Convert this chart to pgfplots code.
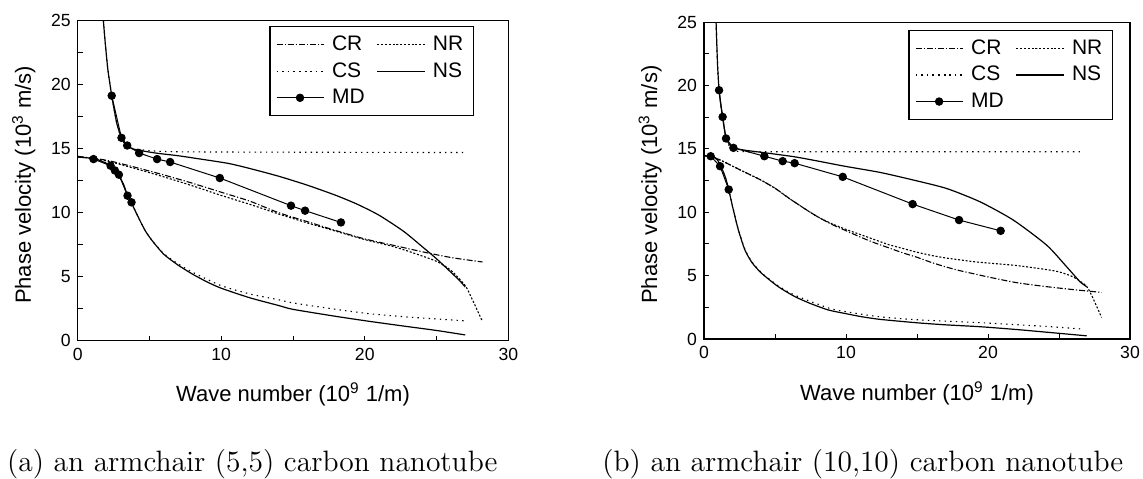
\documentclass[border=0pt]{standalone}
\usepackage{fontspec}
\setsansfont{Liberation Sans}
\usepackage{pgfplots}
\pgfplotsset{compat=1.18}

\pgfplotsset{
  panel/.style={
    scale only axis,
    xmin=0, xmax=30, ymin=0, ymax=25,
    xtick={0,10,20,30}, ytick={0,5,...,25},
    minor x tick num=1, minor y tick num=1,
    tick align=inside, xtick pos=bottom, ytick pos=left,
    major tick length=2.6pt, minor tick length=2.6pt,
    every tick/.style={black, line width=0.5pt},
    axis line style={line width=0.6pt},
    tick label style={font=\sffamily\fontsize{8.8}{10}\selectfont},
    /pgf/number format/assume math mode=true,
    xlabel={Wave number (10\textsuperscript{9} 1/m)},
    ylabel={Phase velocity (10\textsuperscript{3} m/s)},
    every axis x label/.style={at={([yshift=-30.5pt]axis description cs:0.5,0)}, anchor=base,
      font=\sffamily\fontsize{11}{12}\selectfont},
    every axis y label/.style={at={([xshift=-23.4pt]axis description cs:0,0.487)}, rotate=90,
      anchor=base, font=\sffamily\fontsize{11}{12}\selectfont},
    legend columns=2,
    legend cell align=left,
    legend image code/.code={\draw[mark repeat=2,mark phase=2,##1] plot coordinates {(0pt,0pt) (11.75pt,0pt) (23.5pt,0pt)};},
    legend style={font=\sffamily\fontsize{10.5}{12}\selectfont, draw=black, line width=0.6pt,
      inner xsep=3pt, inner ysep=2.5pt, row sep=0.5pt, anchor=north east,
      /tikz/every odd column/.append style={column sep=2pt},
      /tikz/every even column/.append style={column sep=4pt}},
  },
  cr/.style={black, line width=0.55pt, smooth, tension=0.4, dash pattern=on 3pt off 1pt on 0.6pt off 1pt},
  nr/.style={black, line width=0.55pt, smooth, tension=0.4, dash pattern=on 1pt off 0.9pt},
  cs/.style={black, line width=0.55pt, smooth, tension=0.4, dash pattern=on 0.7pt off 2.1pt},
  ns/.style={black, line width=0.6pt, smooth, tension=0.4},
  md/.style={black, line width=0.5pt, mark=*, mark size=1.85pt, mark options={solid, fill=black}},
}

\begin{document}
\begin{tikzpicture}
\path[use as bounding box] (0,0) rectangle (571.5pt,239pt);

% (a) armchair (5,5)
\begin{axis}[panel, at={(38.85pt,68.65pt)}, anchor=south west,
  width=215.3pt, height=160pt, legend style={at={(0.92,0.983)}}]
\addplot[cr] coordinates {(0,14.4) (2,14.1) (4,13.55) (6,12.95) (8,12.3) (10,11.6) (12,10.9)
  (14,10.0) (16,9.3) (18,8.6) (20,7.95) (22,7.45) (24,6.95) (26,6.5) (28.2,6.15)};
\addplot[nr] coordinates {(0,14.4) (2,14.05) (4,13.45) (6,12.8) (8,12.1) (10,11.35) (12,10.65)
  (14,9.9) (16,9.2) (18,8.55) (20,7.9) (22,7.35) (23.4,6.85) (25,6.2) (26,5.5) (27,4.3)
  (27.5,3.2) (28.2,1.5)};
\addplot[cs] coordinates {(1.79,25) (1.9,23.5) (2.1,21.2) (2.37,19.14) (2.55,18.0) (2.72,17.0)
  (2.9,16.3) (3.06,15.8) (3.25,15.45) (3.5,15.1) (5,14.85) (8,14.75) (27,14.7)};
\addplot[ns] coordinates {(1.79,25) (1.9,23.5) (2.1,21.2) (2.37,19.14) (2.55,18.0) (2.72,17.0)
  (2.9,16.3) (3.06,15.8) (3.25,15.45) (3.44,15.2) (3.8,15.0) (4.3,14.87) (5.5,14.65) (7,14.45)
  (8.5,14.2) (10.5,13.85) (12,13.45) (14,12.85) (16,12.15) (18,11.35) (19.5,10.65) (21,9.8)
  (22.7,8.55) (24,7.35) (25,6.4) (26,5.35) (26.6,4.7) (27.0,4.2)};
\addplot[md] coordinates {(2.37,19.14) (3.05,15.85) (3.45,15.25) (4.28,14.66) (5.53,14.19)
  (6.44,13.96) (9.9,12.71) (14.86,10.55) (15.84,10.16) (18.34,9.24)};
\addplot[cs, forget plot] coordinates {(0,14.35) (1,14.25) (1.5,14.1) (2,13.85) (2.3,13.6)
  (2.6,13.25) (2.9,12.85) (3.2,12.2) (3.47,11.35) (3.75,10.75) (4.2,9.7) (4.7,8.6) (5.2,7.8)
  (6,6.8) (7,6.0) (8,5.35) (10,4.3) (12,3.65) (14,3.2) (15,2.95) (18,2.45) (20.4,2.1)
  (23,1.85) (25,1.7) (27,1.55)};
\addplot[ns, forget plot] coordinates {(0,14.35) (1,14.25) (1.5,14.1) (2,13.85) (2.3,13.6)
  (2.6,13.25) (2.9,12.85) (3.2,12.2) (3.47,11.35) (3.75,10.75) (4.2,9.7) (4.7,8.6) (5.2,7.8)
  (6,6.75) (7,5.9) (8,5.2) (9,4.6) (10,4.1) (12,3.35) (14,2.75) (15,2.45) (18,1.9) (20.4,1.5)
  (23,1.1) (25,0.8) (27,0.45)};
\addplot[md, forget plot] coordinates {(1.10,14.19) (2.29,13.67) (2.59,13.3) (2.87,12.97)
  (3.47,11.33) (3.75,10.81)};
\legend{CR,NR,CS,NS,MD}
\end{axis}

% (b) armchair (10,10)
\begin{axis}[panel, at={(352pt,69.5pt)}, anchor=south west,
  width=213pt, height=158.35pt, legend style={at={(0.96,0.976)}}]
\addplot[cr] coordinates {(0,14.5) (1,14.2) (2,13.65) (3,13.1) (4,12.55) (5,11.9) (6,11.1)
  (7,10.35) (8,9.65) (9,9.05) (10,8.55) (11,8.05) (12,7.6) (13,7.2) (14,6.8) (15,6.45)
  (16,6.05) (17,5.7) (18,5.4) (19,5.15) (20,4.9) (22,4.45) (24,4.15) (26,3.9) (28,3.68)};
\addplot[nr] coordinates {(0,14.5) (1,14.2) (2,13.65) (3,13.1) (4,12.55) (5,11.9) (6,11.1)
  (7,10.35) (8,9.65) (9,9.1) (10,8.65) (11,8.25) (12,7.85) (13,7.45) (14,7.15) (15,6.85)
  (16,6.6) (17,6.4) (18,6.25) (19,6.1) (20,6.0) (22,5.8) (24,5.5) (25,5.3) (26,4.9)
  (26.95,4.15) (27.5,2.95) (28,1.7)};
\addplot[cs] coordinates {(0.85,25) (0.9,23.3) (0.96,21.5) (1.06,19.64) (1.18,18.5)
  (1.31,17.53) (1.43,16.6) (1.55,15.83) (1.8,15.2) (2.07,14.95) (2.5,14.8) (5,14.78) (26.6,14.78)};
\addplot[ns] coordinates {(0.85,25) (0.9,23.3) (0.96,21.5) (1.06,19.64) (1.18,18.5)
  (1.31,17.53) (1.43,16.6) (1.55,15.83) (1.8,15.35) (2.07,15.09) (2.9,14.9) (4.3,14.7)
  (6.4,14.38) (8,14.05) (9.9,13.64) (12.4,13.15) (14.74,12.55) (17.09,11.88) (19.44,10.83)
  (21.78,9.39) (24.13,7.41) (25.54,5.70) (26.48,4.52) (26.95,4.13)};
\addplot[md] coordinates {(1.06,19.64) (1.31,17.53) (1.55,15.83) (2.07,15.09) (4.25,14.43)
  (5.54,14.04) (6.38,13.88) (9.77,12.80) (14.69,10.65) (17.96,9.39) (20.89,8.54)};
\addplot[cs, forget plot] coordinates {(0,14.45) (0.47,14.43) (0.8,14.25) (1.0,14.0)
  (1.13,13.6) (1.36,13.15) (1.55,12.55) (1.74,11.8) (1.9,11.0) (2.07,10.2) (2.42,8.65)
  (2.89,7.05) (3.4,6.05) (4.06,5.22) (5.23,4.2) (6.41,3.45) (8.76,2.45) (10,2.15) (12.4,1.75)
  (15,1.52) (19.44,1.29) (24,1.0) (26.5,0.8)};
\addplot[ns, forget plot] coordinates {(0,14.45) (0.47,14.43) (0.8,14.3) (1.0,14.05)
  (1.13,13.7) (1.36,13.2) (1.55,12.6) (1.74,11.8) (1.9,11.0) (2.07,10.17) (2.42,8.6)
  (2.89,7.0) (3.4,6.0) (4.06,5.18) (5.23,4.13) (6.41,3.34) (7.5,2.8) (8.76,2.29) (10,2.0)
  (11.1,1.76) (12.4,1.55) (15,1.28) (17,1.12) (19.44,0.97) (22,0.75) (24,0.55) (26.95,0.25)};
\addplot[md, forget plot] coordinates {(0.47,14.43) (1.13,13.64) (1.74,11.80)};
\legend{CR,NR,CS,NS,MD}
\end{axis}

\node[anchor=base west, inner sep=0pt, font=\rmfamily\fontsize{14.75}{16}\selectfont] at (3.35pt,3.15pt)
  {(a) an armchair (5,5) carbon nanotube};
\node[anchor=base west, inner sep=0pt, font=\rmfamily\fontsize{14.75}{16}\selectfont] at (301pt,3.15pt)
  {(b) an armchair (10,10) carbon nanotube};
\end{tikzpicture}
\end{document}
